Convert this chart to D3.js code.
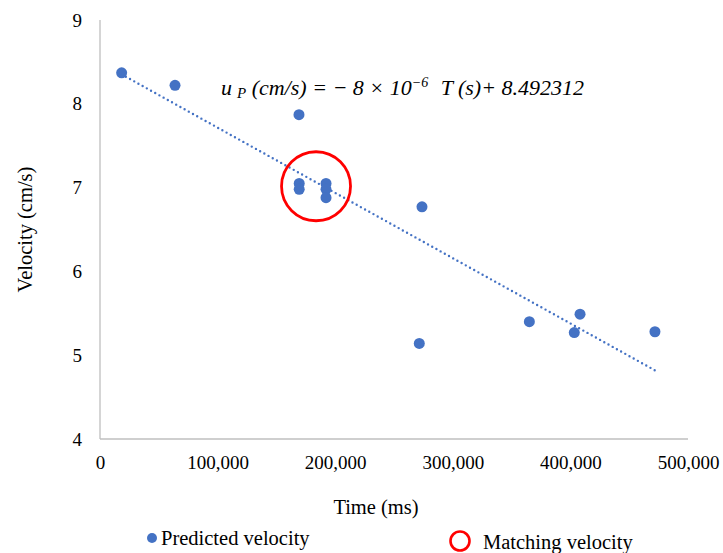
<!DOCTYPE html>
<html>
<head>
<meta charset="utf-8">
<script src="https://cdn.jsdelivr.net/npm/d3@7"></script>
<style>
  html, body { margin: 0; padding: 0; background: #fff; }
  svg text { font-family: "Liberation Serif", "Times New Roman", Tinos, "DejaVu Serif", serif; fill: #000; }
</style>
</head>
<body>
<svg id="chart" width="723" height="553"></svg>
<script>
// ---- data ----
const timeMs = [18400, 63800, 169200, 169400, 169400, 192200, 192200, 192200, 273800, 271500, 365100, 408200, 403300, 471900];
const velocity = [8.37, 8.22, 7.87, 7.05, 6.98, 7.05, 6.98, 6.88, 6.77, 5.14, 5.40, 5.49, 5.27, 5.28];
const xTicks = [0, 100000, 200000, 300000, 400000, 500000];
const yTicks = [4, 5, 6, 7, 8, 9];
const matchCenter = [183700, 7.016];
const seriesNames = ["Predicted velocity", "Matching velocity"];
const xTitle = "Time (ms)";
const yTitle = "Velocity (cm/s)";

const FONT = '"Liberation Serif", "Times New Roman", Tinos, "DejaVu Serif", serif';
const svg = d3.select("#chart");
const x = d3.scaleLinear().domain([0, 500000]).range([100, 688]);
const y = d3.scaleLinear().domain([4, 9]).range([439, 20]);
const blue = "#4472c4";

// axes
const fmt = d3.format(",");
const xAxis = svg.append("g").attr("transform", "translate(0,439)")
  .call(d3.axisBottom(x).tickValues(xTicks).tickFormat(fmt).tickSize(0).tickPadding(17));
const yAxis = svg.append("g").attr("transform", "translate(100,0)")
  .call(d3.axisLeft(y).tickValues(yTicks).tickFormat(d3.format("d")).tickSize(0).tickPadding(18));
[xAxis, yAxis].forEach(a => {
  a.attr("font-family", FONT).attr("font-size", 19);
  a.select(".domain").attr("stroke", "#bfbfbf").attr("stroke-width", 1.3);
  a.selectAll("text").attr("fill", "#000");
});
xAxis.select(".domain").attr("d", `M${x(0)},0H${x(500000)}`);
yAxis.select(".domain").attr("d", `M0,${y(4)}V${y(9)}`);

// linear regression trendline
const n = timeMs.length;
const mx = d3.mean(timeMs), my = d3.mean(velocity);
let sxy = 0, sxx = 0;
for (let i = 0; i < n; i++) { sxy += (timeMs[i]-mx)*(velocity[i]-my); sxx += (timeMs[i]-mx)**2; }
const slope = sxy / sxx, intercept = my - slope * mx;
const [xmin, xmax] = d3.extent(timeMs);
svg.append("line")
  .attr("x1", x(xmin)).attr("y1", y(intercept + slope * xmin))
  .attr("x2", x(xmax)).attr("y2", y(intercept + slope * xmax))
  .attr("stroke", blue).attr("stroke-width", 2.4)
  .attr("stroke-linecap", "round").attr("stroke-dasharray", "0,4.8");

// points
svg.append("g").selectAll("circle").data(timeMs).join("circle")
  .attr("cx", (d) => x(d)).attr("cy", (d, i) => y(velocity[i]))
  .attr("r", 5.5).attr("fill", blue);

// matching circle
svg.append("circle").attr("cx", x(matchCenter[0])).attr("cy", y(matchCenter[1]))
  .attr("r", 34.5).attr("fill", "none").attr("stroke", "#ff0000").attr("stroke-width", 2.8);

// equation
const eq = svg.append("text").attr("x", 221).attr("y", 95)
  .style("font-style", "italic").style("font-size", "22px");
eq.append("tspan").text("u");
eq.append("tspan").attr("dx", 5).attr("dy", 3).style("font-size", "15px").text("P");
eq.append("tspan").attr("dy", -3).text(" (cm/s) = − 8 × 10");
eq.append("tspan").attr("dy", -8).style("font-size", "14px").text("−6");
eq.append("tspan").attr("dy", 8).attr("dx", 7).text(" T (s)+ 8.492312");

// axis titles
svg.append("text").attr("x", 376).attr("y", 514).attr("text-anchor", "middle")
  .style("font-size", "20.5px").text(xTitle);
svg.append("text").attr("transform", `translate(32,${y(6.5)}) rotate(-90)`).attr("text-anchor", "middle")
  .style("font-size", "20.5px").text(yTitle);

// legend
svg.append("circle").attr("cx", 152).attr("cy", 538).attr("r", 5).attr("fill", blue);
svg.append("text").attr("x", 161).attr("y", 545).style("font-size", "20.5px").text(seriesNames[0]);
svg.append("circle").attr("cx", 460).attr("cy", 541).attr("r", 9.5).attr("fill", "none")
  .attr("stroke", "#ff0000").attr("stroke-width", 2.6);
svg.append("text").attr("x", 483).attr("y", 549).style("font-size", "20.5px").text(seriesNames[1]);
</script>
</body>
</html>
